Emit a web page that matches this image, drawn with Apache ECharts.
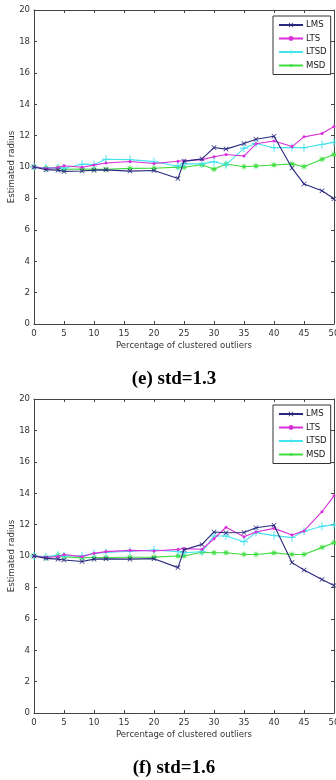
<!DOCTYPE html>
<html>
<head>
<meta charset="utf-8">
<script src="https://cdn.jsdelivr.net/npm/echarts@6/dist/echarts.min.js"></script>
<style>
	html, body {margin: 0; padding: 0; background: #fff;}
	#main {width: 336px; height: 780px;}
</style>
</head>
<body>
<div id="main"></div>
<script>
	// percentage of clustered outliers (shared x positions)
	const xs = [0, 2, 4, 5, 8, 10, 12, 16, 20, 24, 25, 28, 30, 32, 35, 37, 40, 43, 45, 48, 50];
	const names = ['LMS', 'LTS', 'LTSD', 'MSD'];
	const captions = ['(e) std=1.3', '(f) std=1.6'];

	// (e) std=1.3
	const lmsE = [10.0, 9.83, 9.8, 9.72, 9.75, 9.8, 9.82, 9.74, 9.78, 9.27, 10.36, 10.52, 11.24, 11.14, 11.5, 11.77, 11.96, 9.93, 8.92, 8.49, 7.98];
	const ltsE = [10.0, 9.9, 9.97, 10.08, 9.98, 10.12, 10.25, 10.35, 10.22, 10.37, 10.4, 10.47, 10.65, 10.8, 10.7, 11.48, 11.66, 11.3, 11.92, 12.13, 12.58];
	const ltsdE = [10.0, 9.94, 9.96, 9.92, 10.18, 10.16, 10.49, 10.47, 10.34, 10.05, 10.2, 10.2, 10.34, 10.14, 11.2, 11.5, 11.23, 11.25, 11.23, 11.44, 11.57];
	const msdE = [10.0, 9.94, 9.95, 9.86, 9.87, 9.86, 9.86, 9.91, 9.92, 9.99, 9.98, 10.14, 9.86, 10.19, 10.02, 10.06, 10.13, 10.2, 10.02, 10.49, 10.8];

	// (f) std=1.6
	const lmsF = [10.0, 9.85, 9.8, 9.75, 9.65, 9.8, 9.82, 9.8, 9.83, 9.26, 10.4, 10.74, 11.53, 11.48, 11.5, 11.8, 11.96, 9.58, 9.11, 8.5, 8.12];
	const ltsF = [10.0, 9.9, 9.97, 10.1, 9.96, 10.17, 10.28, 10.36, 10.32, 10.42, 10.47, 10.43, 11.1, 11.83, 11.23, 11.53, 11.76, 11.34, 11.6, 12.82, 13.83];
	const ltsdF = [10.0, 9.96, 10.05, 10.0, 10.02, 10.16, 10.22, 10.3, 10.38, 10.28, 10.21, 10.27, 11.27, 11.27, 10.91, 11.49, 11.3, 11.17, 11.58, 11.9, 11.97];
	const msdF = [10.0, 9.9, 10.04, 9.96, 9.88, 9.9, 9.9, 9.92, 9.93, 10.0, 10.0, 10.24, 10.21, 10.21, 10.1, 10.1, 10.2, 10.1, 10.1, 10.55, 10.85];

	const panels = [[lmsE, ltsE, ltsdE, msdE], [lmsF, ltsF, ltsdF, msdF]];

	const colors = ['#28287e', '#d82fd8', '#45e3ee', '#3fdc3f'];
	const crossX = 'path://M-5,-4L-4,-5L0,-1L4,-5L5,-4L1,0L5,4L4,5L0,1L-4,5L-5,4L-1,0Z';
	const plus = 'path://M-0.6,-5L0.6,-5L0.6,-0.6L5,-0.6L5,0.6L0.6,0.6L0.6,5L-0.6,5L-0.6,0.6L-5,0.6L-5,-0.6L-0.6,-0.6Z';
	const star = 'path://M5,0L1.48,0.61L3.54,3.54L0.61,1.48L0,5L-0.61,1.48L-3.54,3.54L-1.48,0.61L-5,0L-1.48,-0.61L-3.54,-3.54L-0.61,-1.48L0,-5L0.61,-1.48L3.54,-3.54L1.48,-0.61Z';
	const symbols = [crossX, 'circle', plus, star];
	const symbolSizes = [5, 3, 8, 8];

	const font = '"Liberation Sans Narrow", "DejaVu Sans Condensed", Arial, sans-serif';
	const axisColor = '#444';
	const tops = [10, 399];
	const plotH = 314;

	const grids = [], xAxes = [], yAxes = [], series = [], legends = [], graphics = [];
	tops.forEach((top, g) => {
		grids.push({left: 34, right: 2, top: top, height: plotH, containLabel: false, outerBoundsMode: 'none'});
		const tick = {show: true, inside: true, length: 3, lineStyle: {color: axisColor}};
		const line = {show: true, onZero: false, lineStyle: {color: axisColor, width: 1}};
		xAxes.push({
			type: 'value', gridIndex: g, min: 0, max: 50, interval: 5, position: 'bottom',
			axisLine: line, axisTick: tick, splitLine: {show: false},
			axisLabel: {color: '#333', fontSize: 9.5, fontFamily: font, margin: 5},
			name: 'Percentage of clustered outliers', nameLocation: 'middle', nameGap: 17, nameMoveOverlap: false,
			nameTextStyle: {color: '#333', fontSize: 9.5, fontFamily: font}
		});
		xAxes.push({
			type: 'value', gridIndex: g, min: 0, max: 50, interval: 5, position: 'top',
			axisLine: line, axisTick: tick, axisLabel: {show: false}, splitLine: {show: false}
		});
		yAxes.push({
			type: 'value', gridIndex: g, min: 0, max: 20, interval: 2, position: 'left',
			axisLine: line, axisTick: tick, splitLine: {show: false},
			axisLabel: {color: '#333', fontSize: 9.5, fontFamily: font, margin: 4},
			name: 'Estimated radius', nameLocation: 'middle', nameGap: 17, nameRotate: 90, nameMoveOverlap: false,
			nameTextStyle: {color: '#333', fontSize: 9.5, fontFamily: font}
		});
		yAxes.push({
			type: 'value', gridIndex: g, min: 0, max: 20, interval: 2, position: 'right',
			axisLine: line, axisTick: tick, axisLabel: {show: false}, splitLine: {show: false}
		});
		panels[g].forEach((vals, i) => {
			series.push({
				name: names[i], type: 'line', xAxisIndex: g * 2, yAxisIndex: g * 2,
				data: xs.map((x, k) => [x, vals[k]]),
				symbol: symbols[i], symbolSize: symbolSizes[i], showAllSymbol: true,
				lineStyle: {color: colors[i], width: 1.1},
				itemStyle: {color: colors[i]},
				z: 10 - i, animation: false, clip: false
			});
		});
		legends.push({
			orient: 'vertical', left: 273, top: top + 6,
			data: names, backgroundColor: '#fff', borderColor: '#333', borderWidth: 1,
			padding: [4, 4, 4, 5], itemWidth: 24, itemHeight: 6, itemGap: 3.5,
			textStyle: {color: '#222', fontSize: 9.5, fontFamily: font, padding: [0, 0, 0, -2]},
			selectedMode: false
		});
		graphics.push({
			type: 'text', x: 174, y: top + plotH + 55,
			style: {
				text: captions[g], fill: '#000', align: 'center', verticalAlign: 'middle',
				font: 'bold 19px "Liberation Serif", "Times New Roman", serif'
			}
		});
	});

	const chart = echarts.init(document.getElementById('main'));
	chart.setOption({
		backgroundColor: '#fff',
		animation: false,
		grid: grids,
		xAxis: xAxes,
		yAxis: yAxes,
		legend: legends,
		series: series,
		graphic: graphics
	});
</script>
</body>
</html>
